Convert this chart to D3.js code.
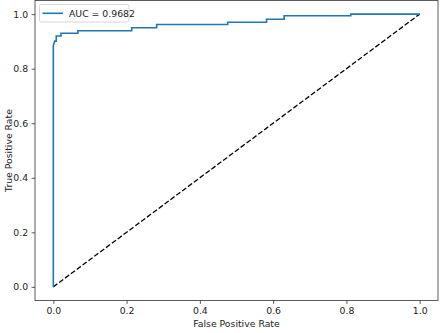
<!DOCTYPE html>
<html>
<head>
<meta charset="utf-8">
<script src="https://cdn.jsdelivr.net/npm/d3@7"></script>
<style>
html,body{margin:0;padding:0;background:#fff;}
svg{display:block;}
text{font-family:"DejaVu Sans",sans-serif;fill:#222;}
</style>
</head>
<body>
<svg id="chart" width="442" height="333"></svg>
<script>
const fpr = [0, 0, 0.002, 0.004, 0.008, 0.008, 0.021, 0.021, 0.067, 0.067, 0.214, 0.214, 0.282, 0.282, 0.476, 0.476, 0.582, 0.582, 0.630, 0.630, 0.812, 0.812, 1.0];
const tpr = [0, 0.885, 0.893, 0.901, 0.901, 0.920, 0.920, 0.930, 0.930, 0.939, 0.939, 0.950, 0.950, 0.962, 0.962, 0.970, 0.970, 0.981, 0.981, 0.994, 0.994, 1.0, 1.0];
const diagX = [0, 1];
const diagY = [0, 1];
const xTicks = [0, 0.2, 0.4, 0.6, 0.8, 1.0];
const yTicks = [0, 0.2, 0.4, 0.6, 0.8, 1.0];
const legendLabel = "AUC = 0.9682";
const xLabel = "False Positive Rate";
const yLabel = "True Positive Rate";

const svg = d3.select("#chart");
const L = 35, R = 438, T = 0.5, B = 300.5;
const x = d3.scaleLinear().domain([-0.05, 1.05]).range([L, R]);
const y = d3.scaleLinear().domain([-0.05, 1.05]).range([B, T]);
const fs = 9.3;

// curves
const line = d3.line().x(d => x(d[0])).y(d => y(d[1]));
svg.append("path")
  .datum(diagX.map((v, i) => [v, diagY[i]]))
  .attr("d", line).attr("fill", "none")
  .attr("stroke", "#000").attr("stroke-width", 1.3)
  .attr("stroke-dasharray", "5.1,2.2");
svg.append("path")
  .datum(fpr.map((v, i) => [v, tpr[i]]))
  .attr("d", line).attr("fill", "none")
  .attr("stroke", "#1f77b4").attr("stroke-width", 1.6)
  .attr("stroke-linejoin", "miter");

// axes
const xAxis = svg.append("g").attr("transform", `translate(0,${B})`)
  .call(d3.axisBottom(x).tickValues(xTicks).tickFormat(d3.format(".1f")).tickSizeOuter(0).tickSizeInner(3.4).tickPadding(3.5));
const yAxis = svg.append("g").attr("transform", `translate(${L},0)`)
  .call(d3.axisLeft(y).tickValues(yTicks).tickFormat(d3.format(".1f")).tickSizeOuter(0).tickSizeInner(3.4).tickPadding(3.5));
[xAxis, yAxis].forEach(g => {
  g.select(".domain").remove();
  g.selectAll(".tick line").attr("stroke", "#333").attr("stroke-width", 0.8);
  g.selectAll(".tick text").attr("font-size", fs).attr("font-family", "DejaVu Sans").style("fill", "#222");
});

// spines
svg.append("rect").attr("x", L).attr("y", T).attr("width", R - L).attr("height", B - T)
  .attr("fill", "none").attr("stroke", "#333").attr("stroke-width", 0.8);

// labels
svg.append("text").attr("x", (L + R) / 2).attr("y", 327)
  .attr("text-anchor", "middle").attr("font-size", fs).text(xLabel);
svg.append("text").attr("transform", `translate(11.5,${(T + B) / 2}) rotate(-90)`)
  .attr("text-anchor", "middle").attr("font-size", fs).text(yLabel);

// legend
const lg = svg.append("g");
lg.append("rect").attr("x", 39.5).attr("y", 4.5).attr("width", 89.5).attr("height", 17.5)
  .attr("rx", 2).attr("fill", "#fff").attr("fill-opacity", 0.8)
  .attr("stroke", "#ccc").attr("stroke-width", 0.8);
lg.append("line").attr("x1", 42.5).attr("x2", 63).attr("y1", 13.3).attr("y2", 13.3)
  .attr("stroke", "#1f77b4").attr("stroke-width", 1.6);
lg.append("text").attr("x", 69).attr("y", 16.6).attr("font-size", fs).text(legendLabel);
</script>
</body>
</html>
